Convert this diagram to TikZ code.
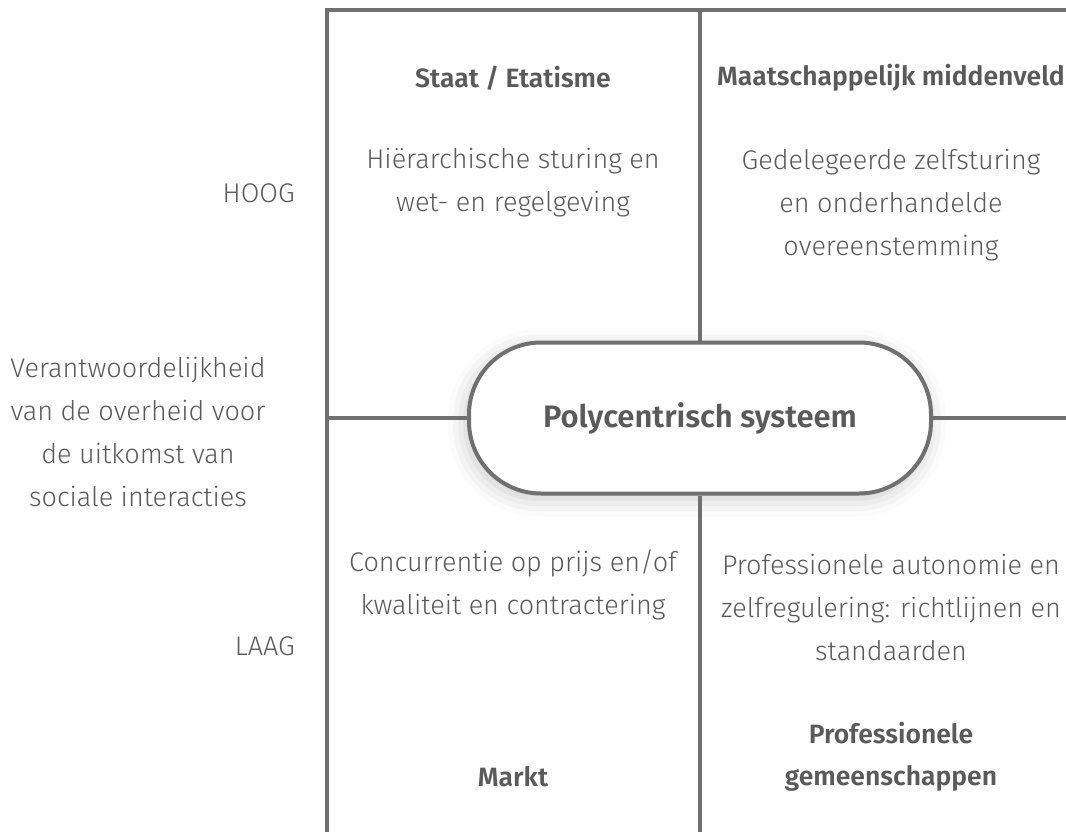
\documentclass[tikz,border=0pt]{standalone}
\usepackage{fontspec}
\setmainfont{Fira Sans}[UprightFont=* Light, BoldFont=* SemiBold]
\usetikzlibrary{shadows.blur}
\definecolor{linegray}{HTML}{707070}
\definecolor{txtgray}{HTML}{5A5A5A}
\begin{document}
\begin{tikzpicture}[x=1pt,y=-1pt,
  gridline/.style={draw=linegray, line width=4pt},
  body/.style={text=txtgray, font=\fontsize{27}{43}\selectfont, align=center, inner sep=0pt},
  title/.style={text=txtgray, font=\fontsize{26.5}{42}\selectfont\bfseries, align=center, inner sep=0pt},
  axis/.style={text=txtgray, font=\fontsize{27}{43}\selectfont, inner sep=0pt},
  pill/.style={draw=linegray, line width=4pt, fill=white, rounded corners=72pt,
    minimum width=462pt, minimum height=151pt, inner sep=0pt,
    text=txtgray, font=\fontsize{31}{36}\selectfont\bfseries,
    blur shadow={shadow xshift=-3pt, shadow yshift=-5pt, shadow blur radius=18pt, shadow opacity=22}}]
\useasboundingbox (0,0) rectangle (1066,832);
\begin{scope}
\clip (0,0) rectangle (1066,832);
% grid frame
\coordinate (tl) at (327,10);
\coordinate (br) at (1082,850);
\draw[gridline] (tl) rectangle (br);
\node[pill] (pc) at (700,418) {Polycentrisch systeem};
\coordinate (top) at (700,10);
\coordinate (bot) at (700,850);
\coordinate (lft) at (327,418);
\coordinate (rgt) at (1082,418);
\draw[gridline] (top) -- (pc.north);
\draw[gridline] (pc.south) -- (bot);
\draw[gridline] (lft) -- (pc.west);
\draw[gridline] (pc.east) -- (rgt);
% quadrant texts
\node[title] (staat) at (513,78) {Staat / Etatisme};
\node[title] (maat) at (891,78) {Maatschappelijk middenveld};
\node[body] (hier) at (513,183) {Hiërarchische sturing en\\wet- en regelgeving};
\node[body] (gede) at (891,205) {Gedelegeerde zelfsturing\\en onderhandelde\\overeenstemming};
\node[body] (conc) at (513,585) {Concurrentie op prijs en/of\\kwaliteit en contractering};
\node[body] (prof) at (891,607) {Professionele autonomie en\\zelfregulering: richtlijnen en\\standaarden};
\node[title] (markt) at (513,777) {Markt};
\node[title] (profg) at (891,757) {Professionele\\gemeenschappen};
% axis labels
\node[axis, anchor=east] (hoog) at (295,193) {HOOG};
\node[axis, anchor=east] (laag) at (295,646) {LAAG};
\node[body] (verant) at (138,432) {Verantwoordelijkheid\\van de overheid voor\\de uitkomst van\\sociale interacties};
\end{scope}
\end{tikzpicture}
\end{document}
